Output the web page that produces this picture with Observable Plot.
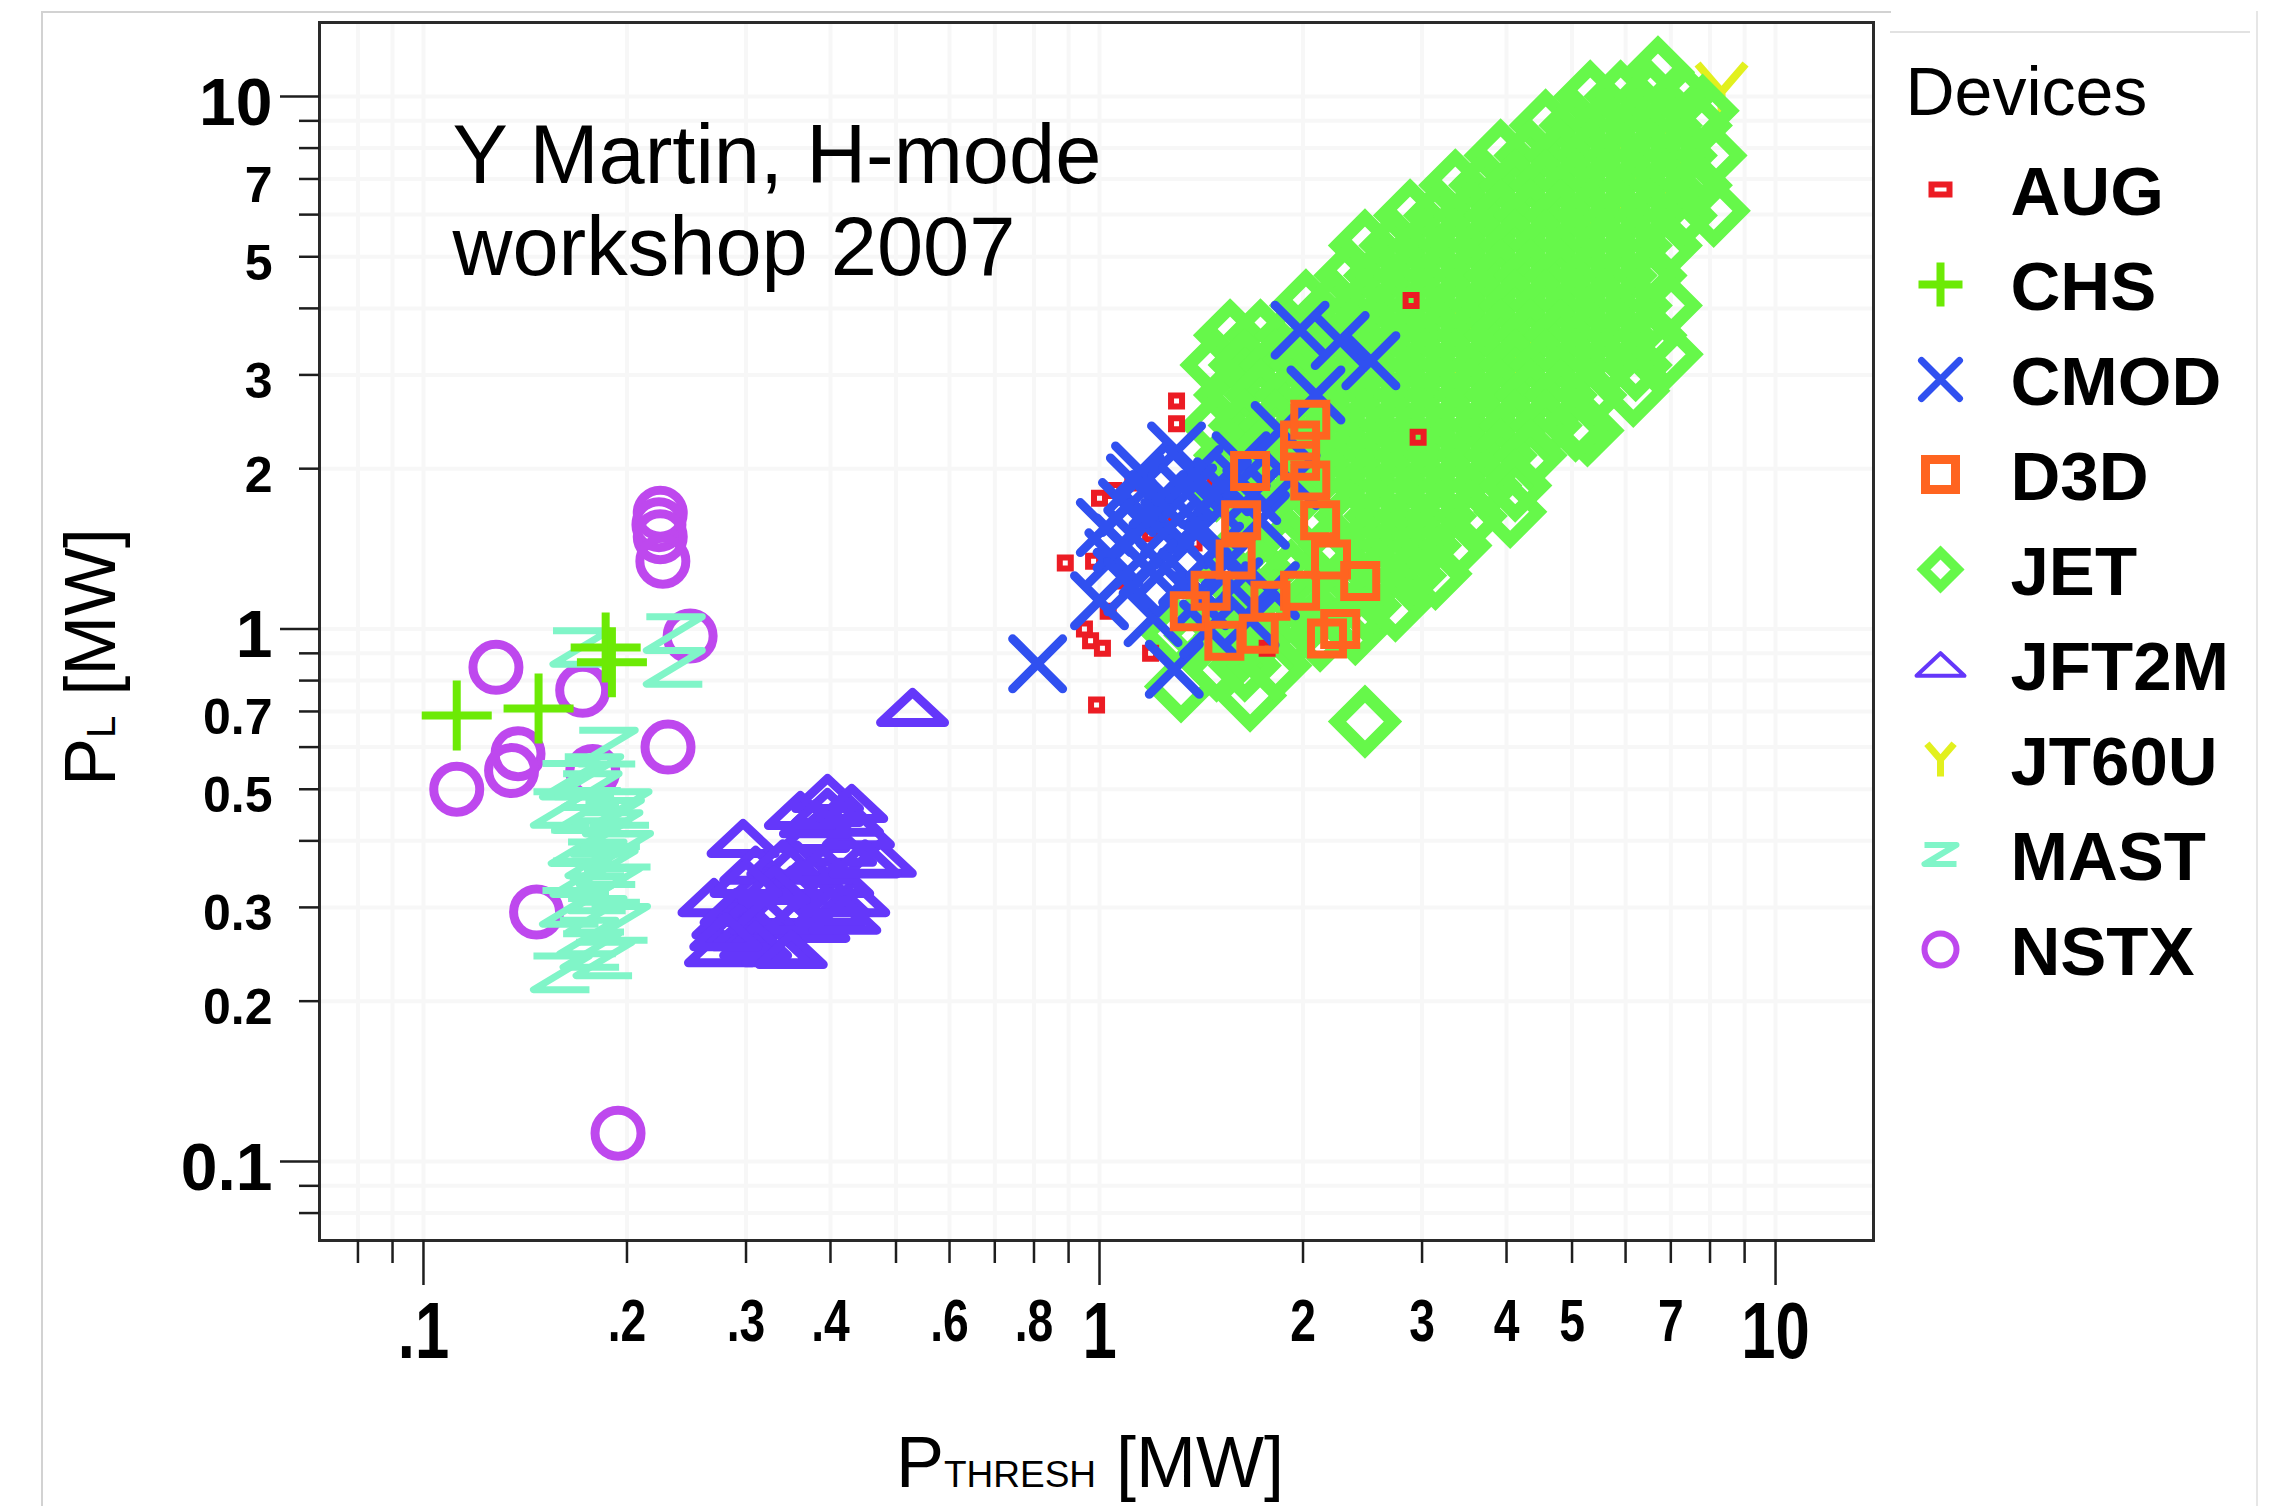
<!DOCTYPE html>
<html>
<head>
<meta charset="utf-8">
<script src="https://cdn.jsdelivr.net/npm/d3@7"></script>
<script src="https://cdn.jsdelivr.net/npm/@observablehq/plot@0.6"></script>
<style>
  html, body { margin:0; padding:0; background:#fff; }
  #page { position:relative; width:2285px; height:1506px; overflow:hidden; background:#fff;
          font-family:"Liberation Sans", Arial, Helvetica, sans-serif; }
  #page svg { position:absolute; overflow:visible; }
  .line { position:absolute; background:#d2d2d2; }
</style>
</head>
<body>
<div id="page">
  <div class="line" style="left:41px;top:11px;width:2px;height:1495px"></div>
  <div class="line" style="left:41px;top:11px;width:1850px;height:2px"></div>
  <div class="line" style="left:1890px;top:31px;width:360px;height:2px;background:#e2e2e2"></div>
  <div class="line" style="left:2256px;top:11px;width:2px;height:1495px;background:#e6e6e6"></div>
</div>
<script>
// ---------------- data ----------------
const devices = ["AUG","CHS","CMOD","D3D","JET","JFT2M","JT60U","MAST","NSTX"];
const deviceColors = ["#ec1c24","#6cea05","#3050f0","#ff6420","#66f84a","#6437fa","#e2f01e","#80f5c8","#be48ee"];

const title = "Y Martin, H-mode\nworkshop 2007";

const xMajor = [0.1, 1, 10];
const xMinor = [0.08, 0.09, 0.2, 0.3, 0.4, 0.5, 0.6, 0.7, 0.8, 0.9, 2, 3, 4, 5, 6, 7, 8, 9];
const xLabelsBig = [0.1, 1, 10];
const xLabelsSmall = [0.2, 0.3, 0.4, 0.6, 0.8, 2, 3, 4, 5, 7];
const yMajor = [0.1, 1, 10];
const yMinor = [0.08, 0.09, 0.2, 0.3, 0.4, 0.5, 0.6, 0.7, 0.8, 0.9, 2, 3, 4, 5, 6, 7, 8, 9];
const yLabelsBig = [0.1, 1, 10];
const yLabelsSmall = [0.2, 0.3, 0.5, 0.7, 2, 3, 5, 7];

// P_THRESH (x) and P_L (y), MW
const augThresh = [0.89, 0.98, 1.00, 1.05, 1.03, 0.97, 1.01, 1.19, 1.77, 0.99, 1.30, 1.30, 1.43, 1.19, 1.09, 2.89, 2.96, 1.12, 1.25, 1.38, 0.95];
const augLoss   = [1.33, 1.34, 1.76, 1.82, 1.08, 0.95, 0.92, 0.90, 0.92, 0.72, 2.68, 2.43, 1.92, 1.51, 1.23, 4.14, 2.29, 1.88, 1.62, 1.45, 1.00];

const chsThresh = [0.112, 0.148, 0.186, 0.190];
const chsLoss   = [0.688, 0.709, 0.923, 0.866];

const cmodThresh = [0.81, 1.05, 1.10, 1.15, 1.19, 1.00, 1.13, 1.30, 1.32, 1.46, 1.62, 1.56, 1.73, 1.41, 1.79, 1.29, 1.98, 2.27, 2.09, 1.85, 1.62, 1.92, 2.52, 1.67, 1.25, 1.38, 1.08,
                    1.02, 1.08, 1.12, 1.18, 1.22, 1.27, 1.35, 1.42, 1.48, 1.52, 1.20, 1.45, 1.35, 1.58, 1.68, 1.12];
const cmodLoss   = [0.86, 1.36, 1.69, 1.98, 1.60, 1.13, 1.88, 2.16, 1.47, 1.74, 2.07, 1.35, 1.60, 1.13, 1.18, 0.84, 3.64, 3.48, 2.75, 2.36, 1.90, 1.90, 3.19, 1.04, 1.30, 1.95, 1.45,
                    1.55, 1.25, 1.50, 1.30, 1.75, 1.55, 1.25, 1.55, 1.40, 1.85, 1.05, 1.00, 1.80, 1.20, 1.78, 1.20];

const d3dThresh = [1.98, 2.05, 2.12, 2.20, 1.98, 2.27, 2.17, 1.79, 1.62, 1.59, 1.46, 1.67, 2.05, 1.98, 2.43, 1.36, 1.53, 1.72];
const d3dLoss   = [2.26, 1.90, 1.60, 1.35, 1.18, 1.00, 0.96, 1.13, 1.60, 1.35, 1.18, 1.98, 2.47, 2.07, 1.23, 1.08, 0.95, 0.98];

const jetThresh = [
  6.70, 7.80, 8.10, 6.90, 6.16, 5.27, 4.05, 3.14, 2.39, 2.47, 1.67, 1.32, 1.30,
  5.32, 5.90, 6.53, 7.24,
  4.57, 5.06, 5.60, 6.21, 6.88, 7.62,
  3.92, 4.34, 4.81, 5.32, 5.90, 6.53, 7.24, 8.01,
  3.36, 3.72, 4.12, 4.57, 5.06, 5.60, 6.21, 6.88, 7.62,
  2.88, 3.19, 3.54, 3.92, 4.34, 4.81, 5.32, 5.90, 6.53, 7.24,
  2.47, 2.74, 3.03, 3.36, 3.72, 4.12, 4.57, 5.06, 5.60, 6.21, 6.88,
  2.35, 2.60, 2.88, 3.19, 3.54, 3.92, 4.34, 4.81, 5.32, 5.90, 6.53,
  2.02, 2.23, 2.47, 2.74, 3.03, 3.36, 3.72, 4.12, 4.57, 5.06, 5.60, 6.21, 6.88,
  1.56, 1.73, 1.92, 2.12, 2.35, 2.60, 2.88, 3.19, 3.54, 3.92, 4.34, 4.81, 5.32, 5.90, 6.53,
  1.49, 1.64, 1.82, 2.02, 2.23, 2.47, 2.74, 3.03, 3.36, 3.72, 4.12, 4.57, 5.06, 5.60, 6.21,
  1.56, 1.73, 1.92, 2.12, 2.35, 2.60, 2.88, 3.19, 3.54, 3.92, 4.34, 4.81, 5.32,
  1.49, 1.64, 1.82, 2.02, 2.23, 2.47, 2.74, 3.03, 3.36, 3.72, 4.12, 4.57, 5.06,
  1.56, 1.73, 1.92, 2.12, 2.35, 2.60, 2.88, 3.19, 3.54, 3.92, 4.34,
  1.49, 1.64, 1.82, 2.02, 2.23, 2.47, 2.74, 3.03, 3.36, 3.72, 4.12,
  1.73, 2.02, 2.35, 2.60, 2.88, 3.19, 3.54,
  1.64, 1.92, 2.23, 2.47, 2.74, 3.03, 3.36,
  1.56, 1.73, 1.92, 2.35, 2.60, 2.88,
  1.49, 1.64, 1.82, 2.02, 2.23, 2.47, 2.74,
  1.41, 1.56, 1.73, 1.92, 2.12,
  1.49, 1.64, 1.82
];
const jetLoss = [
  11.1, 9.40, 6.10, 3.28, 2.80, 2.36, 1.66, 1.27, 1.00, 0.67, 0.75, 0.78, 0.98,
  10.0, 10.0, 10.0, 10.0,
  8.82, 8.82, 8.82, 8.82, 8.82, 8.82,
  7.75, 7.75, 7.75, 7.75, 7.75, 7.75, 7.75, 7.75,
  6.81, 6.81, 6.81, 6.81, 6.81, 6.81, 6.81, 6.81, 6.81,
  5.98, 5.98, 5.98, 5.98, 5.98, 5.98, 5.98, 5.98, 5.98, 5.98,
  5.25, 5.25, 5.25, 5.25, 5.25, 5.25, 5.25, 5.25, 5.25, 5.25, 5.25,
  4.61, 4.61, 4.61, 4.61, 4.61, 4.61, 4.61, 4.61, 4.61, 4.61, 4.61,
  4.05, 4.05, 4.05, 4.05, 4.05, 4.05, 4.05, 4.05, 4.05, 4.05, 4.05, 4.05, 4.05,
  3.56, 3.56, 3.56, 3.56, 3.56, 3.56, 3.56, 3.56, 3.56, 3.56, 3.56, 3.56, 3.56, 3.56, 3.56,
  3.13, 3.13, 3.13, 3.13, 3.13, 3.13, 3.13, 3.13, 3.13, 3.13, 3.13, 3.13, 3.13, 3.13, 3.13,
  2.75, 2.75, 2.75, 2.75, 2.75, 2.75, 2.75, 2.75, 2.75, 2.75, 2.75, 2.75, 2.75,
  2.41, 2.41, 2.41, 2.41, 2.41, 2.41, 2.41, 2.41, 2.41, 2.41, 2.41, 2.41, 2.41,
  2.12, 2.12, 2.12, 2.12, 2.12, 2.12, 2.12, 2.12, 2.12, 2.12, 2.12,
  1.86, 1.86, 1.86, 1.86, 1.86, 1.86, 1.86, 1.86, 1.86, 1.86, 1.86,
  1.63, 1.63, 1.63, 1.63, 1.63, 1.63, 1.63,
  1.435, 1.435, 1.435, 1.435, 1.435, 1.435, 1.435,
  1.26, 1.26, 1.26, 1.26, 1.26, 1.26,
  1.107, 1.107, 1.107, 1.107, 1.107, 1.107, 1.107,
  0.972, 0.972, 0.972, 0.972, 0.972,
  0.854, 0.854, 0.854
];

const jft2mThresh = [0.396, 0.396, 0.297, 0.474, 0.433, 0.275, 0.334, 0.282, 0.378, 0.269, 0.318, 0.357, 0.337, 0.414, 0.378, 0.294, 0.405, 0.424, 0.361, 0.529, 0.310, 0.350, 0.440, 0.300,
                     0.340, 0.360, 0.390, 0.410, 0.450, 0.290, 0.320, 0.360, 0.400, 0.310, 0.430, 0.380, 0.330, 0.280, 0.420, 0.300, 0.350];
const jft2mLoss   = [0.491, 0.462, 0.404, 0.371, 0.313, 0.252, 0.252, 0.284, 0.280, 0.313, 0.333, 0.368, 0.300, 0.389, 0.413, 0.280, 0.313, 0.443, 0.456, 0.712, 0.360, 0.330, 0.420, 0.270,
                     0.370, 0.340, 0.360, 0.340, 0.370, 0.300, 0.290, 0.290, 0.300, 0.260, 0.470, 0.440, 0.330, 0.270, 0.290, 0.340, 0.250];

const jt60uThresh = [8.32, 6.16, 7.00, 7.30, 6.90, 5.50, 4.80, 3.60, 3.30, 2.72, 4.15];
const jt60uLoss   = [10.2, 7.68, 8.50, 7.26, 6.45, 5.60, 4.26, 3.53, 3.01, 3.74, 3.28];

const mastThresh = [0.160, 0.175, 0.181, 0.187, 0.183, 0.191, 0.177, 0.197, 0.171, 0.165, 0.195, 0.177, 0.235, 0.235, 0.171, 0.178, 0.187, 0.165, 0.160, 0.196,
                    0.170, 0.190, 0.180, 0.180, 0.190, 0.172, 0.185];
const mastLoss   = [0.226, 0.264, 0.318, 0.356, 0.406, 0.443, 0.497, 0.384, 0.341, 0.300, 0.280, 0.249, 0.980, 0.847, 0.923, 0.535, 0.600, 0.520, 0.460, 0.460,
                    0.390, 0.330, 0.290, 0.370, 0.420, 0.450, 0.240];

const nstxThresh = [0.224, 0.223, 0.224, 0.226, 0.248, 0.128, 0.172, 0.230, 0.138, 0.135, 0.112, 0.178, 0.147, 0.194];
const nstxLoss   = [1.65, 1.57, 1.49, 1.34, 0.97, 0.847, 0.767, 0.600, 0.583, 0.542, 0.500, 0.540, 0.294, 0.113];

// ---------------- symbols ----------------
function sym(fn) { return { draw(ctx, size) { fn(ctx, Math.sqrt(size / Math.PI)); } }; }
const shapes = {
  square: sym((c, r) => { c.moveTo(-r, -r); c.lineTo(r, -r); c.lineTo(r, r); c.lineTo(-r, r); c.closePath(); }),
  bar: sym((c, r) => { const h = 0.55 * r; c.moveTo(-r, -h); c.lineTo(r, -h); c.lineTo(r, h); c.lineTo(-r, h); c.closePath(); }),
  plus: sym((c, r) => { c.moveTo(-r, 0); c.lineTo(r, 0); c.moveTo(0, -r); c.lineTo(0, r); }),
  cross: sym((c, r) => { c.moveTo(-r, -r); c.lineTo(r, r); c.moveTo(-r, r); c.lineTo(r, -r); }),
  diamond: sym((c, r) => { c.moveTo(0, -r); c.lineTo(r, 0); c.lineTo(0, r); c.lineTo(-r, 0); c.closePath(); }),
  triangle: sym((c, r) => { const h = 0.47 * r; c.moveTo(0, -h); c.lineTo(r, h); c.lineTo(-r, h); c.closePath(); }),
  wye: sym((c, r) => { c.moveTo(-0.8 * r, -0.93 * r); c.lineTo(0, 0); c.lineTo(0.8 * r, -0.93 * r); c.moveTo(0, 0); c.lineTo(0, r); }),
  zed: sym((c, r) => { const h = 0.6 * r; c.moveTo(-r, -h); c.lineTo(r, -h); c.lineTo(-r, h); c.lineTo(r, h); }),
  ring: sym((c, r) => { c.moveTo(r, 0); c.arc(0, 0, r, 0, 2 * Math.PI); })
};
const style = {
  AUG:   {shape: "square",   r: 5.5, sw: 6,  lshape: "bar",  lr: 9,  lsw: 6,  join: "miter"},
  CHS:   {shape: "plus",     r: 35,  sw: 8,  lshape: "plus", lr: 22, lsw: 8,  join: "miter"},
  CMOD:  {shape: "cross",    r: 25,  sw: 9,  lshape: "cross", lr: 19, lsw: 7, join: "round", cap: "round"},
  D3D:   {shape: "square",   r: 16,  sw: 8,  lshape: "square", lr: 15, lsw: 9, join: "miter"},
  JET:   {shape: "diamond",  r: 28,  sw: 13, lshape: "diamond", lr: 17, lsw: 10, join: "miter"},
  JFT2M: {shape: "triangle", r: 32,  sw: 9,  lshape: "triangle", lr: 24, lsw: 4, join: "round"},
  JT60U: {shape: "wye",      r: 30,  sw: 8,  lshape: "wye", lr: 17, lsw: 7, join: "round"},
  MAST:  {shape: "zed",      r: 28,  sw: 7,  lshape: "zed", lr: 16, lsw: 6, join: "round"},
  NSTX:  {shape: "ring",     r: 23,  sw: 9,  lshape: "ring", lr: 16, lsw: 6, join: "round"}
};
const colorOf = d => deviceColors[devices.indexOf(d)];
const rows = (xs, ys) => xs.map((x, i) => ({x, y: ys[i]}));

const series = [
  ["JT60U", jt60uThresh, jt60uLoss],
  ["JET", jetThresh, jetLoss],
  ["AUG", augThresh, augLoss],
  ["CMOD", cmodThresh, cmodLoss],
  ["D3D", d3dThresh, d3dLoss],
  ["JFT2M", jft2mThresh, jft2mLoss],
  ["NSTX", nstxThresh, nstxLoss],
  ["MAST", mastThresh, mastLoss],
  ["CHS", chsThresh, chsLoss]
];

const dotMarks = series.map(([name, xs, ys]) => {
  const s = style[name];
  return Plot.dot(rows(xs, ys), {
    x: "x", y: "y", symbol: shapes[s.shape], r: s.r,
    stroke: colorOf(name), strokeWidth: s.sw, fill: "none",
    strokeLinejoin: s.join, strokeLinecap: s.cap || "butt"
  });
});

const fmtX = d => d < 1 ? String(d).replace(/^0/, "") : String(d);
const fmtY = d => String(d);
const tickInk = "#1e1e1e";

const main = Plot.plot({
  width: 2285, height: 1506,
  marginLeft: 319, marginRight: 412, marginTop: 22, marginBottom: 266,
  style: {background: "transparent", fontFamily: "'Liberation Sans', Arial, sans-serif", color: "#000", overflow: "visible"},
  x: {type: "log", domain: [0.07018, 13.96]},
  y: {type: "log", domain: [0.07105, 13.77]},
  marks: [
    Plot.ruleX(xMajor.concat(xMinor), {stroke: "#f7f7f7", strokeWidth: 4}),
    Plot.ruleY(yMajor.concat(yMinor), {stroke: "#f7f7f7", strokeWidth: 4}),
    ...dotMarks,
    Plot.text([title], {text: d => d, frameAnchor: "top-left", dx: 133, dy: 94, lineAnchor: "top",
      textAnchor: "start", fontSize: 83, lineHeight: 1.12, fill: "#000"}),
    Plot.frame({stroke: "#2a2a2a", strokeWidth: 3}),
    Plot.axisX(xMajor, {tickSize: 45, strokeWidth: 2.5, stroke: tickInk, fill: "none", label: null}),
    Plot.axisX(xMinor, {tickSize: 23, strokeWidth: 2.5, stroke: tickInk, fill: "none", label: null}),
    Plot.axisY(yMajor, {tickSize: 39, strokeWidth: 2.5, stroke: tickInk, fill: "none", label: null}),
    Plot.axisY(yMinor, {tickSize: 20, strokeWidth: 2.5, stroke: tickInk, fill: "none", label: null}),
    Plot.axisX(xLabelsBig, {tickSize: 0, tickPadding: 65, dy: 52, fontSize: 80, fontWeight: "bold", tickFormat: fmtX, stroke: "none", fill: "#000", label: null}),
    Plot.axisX(xLabelsSmall, {tickSize: 0, tickPadding: 60, dy: 40, fontSize: 60, fontWeight: "bold", tickFormat: fmtX, stroke: "none", fill: "#000", label: null}),
    Plot.axisY(yLabelsBig, {tickSize: 0, tickPadding: 47, fontSize: 66, fontWeight: "bold", dy: 7, tickFormat: fmtY, stroke: "none", fill: "#000", label: null}),
    Plot.axisY(yLabelsSmall, {tickSize: 0, tickPadding: 47, fontSize: 50, fontWeight: "bold", dy: 7, tickFormat: fmtY, stroke: "none", fill: "#000", label: null})
  ]
});
main.style.left = "0px"; main.style.top = "0px";

// horizontally condensed x tick labels, as in the reference
main.querySelectorAll('g[aria-label="x-axis tick label"] text').forEach(t => {
  const tr = t.getAttribute("transform") || "";
  const x = t.getAttribute("x"), y = t.getAttribute("y");
  let extra = "";
  if (x != null || y != null) { extra = ` translate(${+x || 0},${+y || 0})`; t.removeAttribute("x"); t.removeAttribute("y"); }
  t.setAttribute("transform", `${tr}${extra} scale(0.77,1)`);
});

// axis titles with small-caps subscripts
const svg = d3.select(main);
svg.append("text").attr("x", 1090).attr("y", 1487).attr("text-anchor", "middle")
  .attr("font-size", 72).attr("fill", "#000")
  .call(t => { t.append("tspan").text("P"); t.append("tspan").attr("font-size", 37).text("THRESH"); t.append("tspan").text(" [MW]"); });
svg.append("text").attr("transform", "translate(115,657) rotate(-90)").attr("text-anchor", "middle")
  .attr("font-size", 72).attr("fill", "#000")
  .call(t => { t.append("tspan").text("P"); t.append("tspan").attr("font-size", 40).text("L"); t.append("tspan").text(" [MW]"); });

// ---------------- legend ----------------
const legendDots = devices.map(d => {
  const s = style[d];
  return Plot.dot([d], {y: v => v, frameAnchor: "left", dx: 60, symbol: shapes[s.lshape], r: s.lr,
    stroke: colorOf(d), strokeWidth: s.lsw, fill: "none", strokeLinejoin: s.join, strokeLinecap: s.cap || "butt"});
});
const legend = Plot.plot({
  width: 405, height: 1010, margin: 0,
  style: {background: "transparent", fontFamily: "'Liberation Sans', Arial, sans-serif", color: "#000", overflow: "visible"},
  y: {type: "point", domain: devices, range: [186, 951], padding: 0, axis: null},
  marks: [
    Plot.text(["Devices"], {text: d => d, frameAnchor: "top-left", dx: 25, dy: 66, lineAnchor: "top", textAnchor: "start", fontSize: 68, fill: "#000"}),
    ...legendDots,
    Plot.text(devices, {y: d => d, text: d => d, frameAnchor: "left", dx: 130, dy: 3, textAnchor: "start", fontSize: 69, fontWeight: "bold", fill: "#000"})
  ]
});
legend.style.left = "1880px"; legend.style.top = "0px";

const page = document.getElementById("page");
page.prepend(main);
page.appendChild(legend);
</script>
</body>
</html>
